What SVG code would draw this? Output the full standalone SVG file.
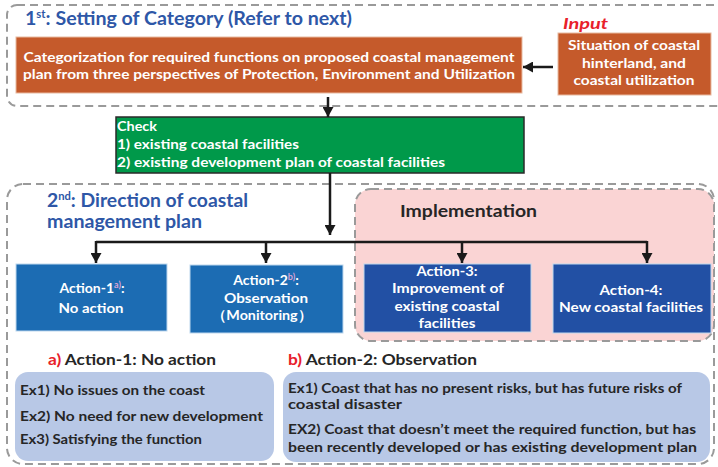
<svg xmlns="http://www.w3.org/2000/svg" width="718" height="467" viewBox="0 0 718 467">
<defs>
<style>
text{font-family:Lato,"Liberation Sans",Arial,sans-serif;font-weight:bold}
.dash{fill:none;stroke:#9a9a9a;stroke-width:2;stroke-dasharray:8,5}
.title{fill:#2e57a7;font-size:19px}
.wt{fill:#fff;font-size:14px}
.wc{fill:#fff;font-size:14px;text-anchor:middle}
.orange{fill:#c55a2b;stroke:#e8b9a0;stroke-width:1}
.a12{fill:#1c6cb3;stroke:#bdd7ee;stroke-width:1}
.a34{fill:#2250a4;stroke:#bdd7ee;stroke-width:1}
.sup{fill:#d9a3d6;font-size:9px}
.ex{fill:#b8c8e6}
.dk{fill:#262626;font-size:13px}
.hd{fill:#262626;font-size:15px}
.red{fill:#e8202a}
.conn{fill:none;stroke:#1a1a1a;stroke-width:2.5}
</style>
<marker id="ah" markerUnits="userSpaceOnUse" markerWidth="11" markerHeight="11" refX="10" refY="5.5" orient="auto">
<path d="M0,0 L10,5.5 L0,11 z" fill="#1a1a1a"/>
</marker>
</defs>
<rect width="718" height="467" fill="#fff"/>

<g id="stage1">
<rect class="dash" x="7" y="5" width="730" height="101" rx="10"/>
<text class="title" x="25" y="25" textLength="327" lengthAdjust="spacingAndGlyphs">1<tspan font-size="11" dy="-7">st</tspan><tspan dy="7">:  Setting of Category (Refer to next)</tspan></text>
</g>

<g id="categorization">
<rect class="orange" x="16" y="37" width="506" height="56"/>
<text class="wc" x="269" y="62" textLength="491" lengthAdjust="spacingAndGlyphs">Categorization for required functions on proposed coastal management</text>
<text class="wc" x="269" y="79" textLength="492" lengthAdjust="spacingAndGlyphs">plan from three perspectives of Protection, Environment and Utilization</text>
</g>

<g id="input">
<text x="563" y="29" font-size="16" font-style="italic" class="red" textLength="45" lengthAdjust="spacingAndGlyphs">Input</text>
<rect class="orange" x="558" y="33" width="153" height="62"/>
<text class="wc" x="634" y="50" textLength="132" lengthAdjust="spacingAndGlyphs">Situation of coastal</text>
<text class="wc" x="634" y="68" textLength="104" lengthAdjust="spacingAndGlyphs">hinterland, and</text>
<text class="wc" x="634" y="85" textLength="121" lengthAdjust="spacingAndGlyphs">coastal utilization</text>
</g>

<g id="check">
<rect x="116" y="117" width="408" height="56" fill="#00994a" stroke="#2a2a2a" stroke-width="1.5"/>
<text class="wt" font-size="13" x="117" y="131" textLength="40" lengthAdjust="spacingAndGlyphs">Check</text>
<text class="wt" font-size="13" x="117" y="149" textLength="182" lengthAdjust="spacingAndGlyphs">1) existing coastal facilities</text>
<text class="wt" font-size="13" x="117" y="167" textLength="328" lengthAdjust="spacingAndGlyphs">2) existing development plan of coastal facilities</text>
</g>

<g id="stage2">
<rect class="dash" x="7" y="184" width="707" height="280" rx="16"/>
<text class="title" x="47" y="207" textLength="201" lengthAdjust="spacingAndGlyphs">2<tspan font-size="11" dy="-7">nd</tspan><tspan dy="7">: Direction of coastal</tspan></text>
<text class="title" x="47" y="228" textLength="155" lengthAdjust="spacingAndGlyphs">management plan</text>
</g>

<g id="implementation">
<rect x="355" y="189" width="359" height="152" rx="16" fill="#fad4d4" stroke="#9a9a9a" stroke-width="2" stroke-dasharray="8,5"/>
<text x="400" y="217" font-size="17" fill="#262626" textLength="137" lengthAdjust="spacingAndGlyphs">Implementation</text>
</g>

<g id="action1">
<rect class="a12" x="16" y="264" width="151" height="67"/>
<text class="wc" x="92" y="293">Action-1<tspan class="sup" dy="-5">a)</tspan><tspan dy="5">:</tspan></text>
<text class="wc" x="91" y="313" textLength="65" lengthAdjust="spacingAndGlyphs">No action</text>
</g>

<g id="action2">
<rect class="a12" x="190" y="265" width="153" height="68"/>
<text class="wc" x="266" y="285">Action-2<tspan class="sup" dy="-5">b)</tspan><tspan dy="5">:</tspan></text>
<text class="wc" x="266" y="303" textLength="84" lengthAdjust="spacingAndGlyphs">Observation</text>
<text class="wc" x="262" y="320" textLength="100" lengthAdjust="spacingAndGlyphs">（Monitoring）</text>
</g>

<g id="action3">
<rect class="a34" x="364" y="264" width="167" height="68"/>
<text class="wc" x="447" y="276" textLength="61" lengthAdjust="spacingAndGlyphs">Action-3:</text>
<text class="wc" x="448" y="293" textLength="112" lengthAdjust="spacingAndGlyphs">Improvement of</text>
<text class="wc" x="447" y="311" textLength="105" lengthAdjust="spacingAndGlyphs">existing coastal</text>
<text class="wc" x="447" y="328" textLength="57" lengthAdjust="spacingAndGlyphs">facilities</text>
</g>

<g id="action4">
<rect class="a34" x="553" y="264" width="158" height="69"/>
<text class="wc" x="631" y="295" textLength="63" lengthAdjust="spacingAndGlyphs">Action-4:</text>
<text class="wc" x="631" y="312" textLength="144" lengthAdjust="spacingAndGlyphs">New coastal facilities</text>
</g>

<g id="noteA">
<text class="hd" x="48" y="365" textLength="168" lengthAdjust="spacingAndGlyphs"><tspan class="red">a)</tspan> Action-1: No action</text>
<rect class="ex" x="15" y="372" width="259" height="89" rx="13"/>
<text class="dk" x="20" y="395" textLength="185" lengthAdjust="spacingAndGlyphs">Ex1) No issues on the coast</text>
<text class="dk" x="20" y="421" textLength="243" lengthAdjust="spacingAndGlyphs">Ex2) No need for new development</text>
<text class="dk" x="20" y="444" textLength="182" lengthAdjust="spacingAndGlyphs">Ex3) Satisfying the function</text>
</g>

<g id="noteB">
<text class="hd" x="288" y="365" textLength="189" lengthAdjust="spacingAndGlyphs"><tspan class="red">b)</tspan> Action-2: Observation</text>
<rect class="ex" x="283" y="372" width="427" height="90" rx="13"/>
<text class="dk" x="288" y="393" textLength="394" lengthAdjust="spacingAndGlyphs">Ex1) Coast that has no present risks,  but has future risks of</text>
<text class="dk" x="288" y="409" textLength="114" lengthAdjust="spacingAndGlyphs">coastal disaster</text>
<text class="dk" x="288" y="434" textLength="408" lengthAdjust="spacingAndGlyphs">EX2) Coast that doesn’t meet the required function, but has</text>
<text class="dk" x="288" y="452" textLength="409" lengthAdjust="spacingAndGlyphs">been recently developed or has existing development plan</text>
</g>

<g id="connectors">
<path class="conn" d="M328,97 V117" marker-end="url(#ah)"/>
<path class="conn" d="M553,67 H523" marker-end="url(#ah)"/>
<path class="conn" d="M330,173 V235" marker-end="url(#ah)"/>
<path class="conn" d="M96,242 H647"/>
<path class="conn" d="M96,241 V263" marker-end="url(#ah)"/>
<path class="conn" d="M266,242 V263" marker-end="url(#ah)"/>
<path class="conn" d="M462,242 V263" marker-end="url(#ah)"/>
<path class="conn" d="M647,241 V263" marker-end="url(#ah)"/>
</g>
</svg>
